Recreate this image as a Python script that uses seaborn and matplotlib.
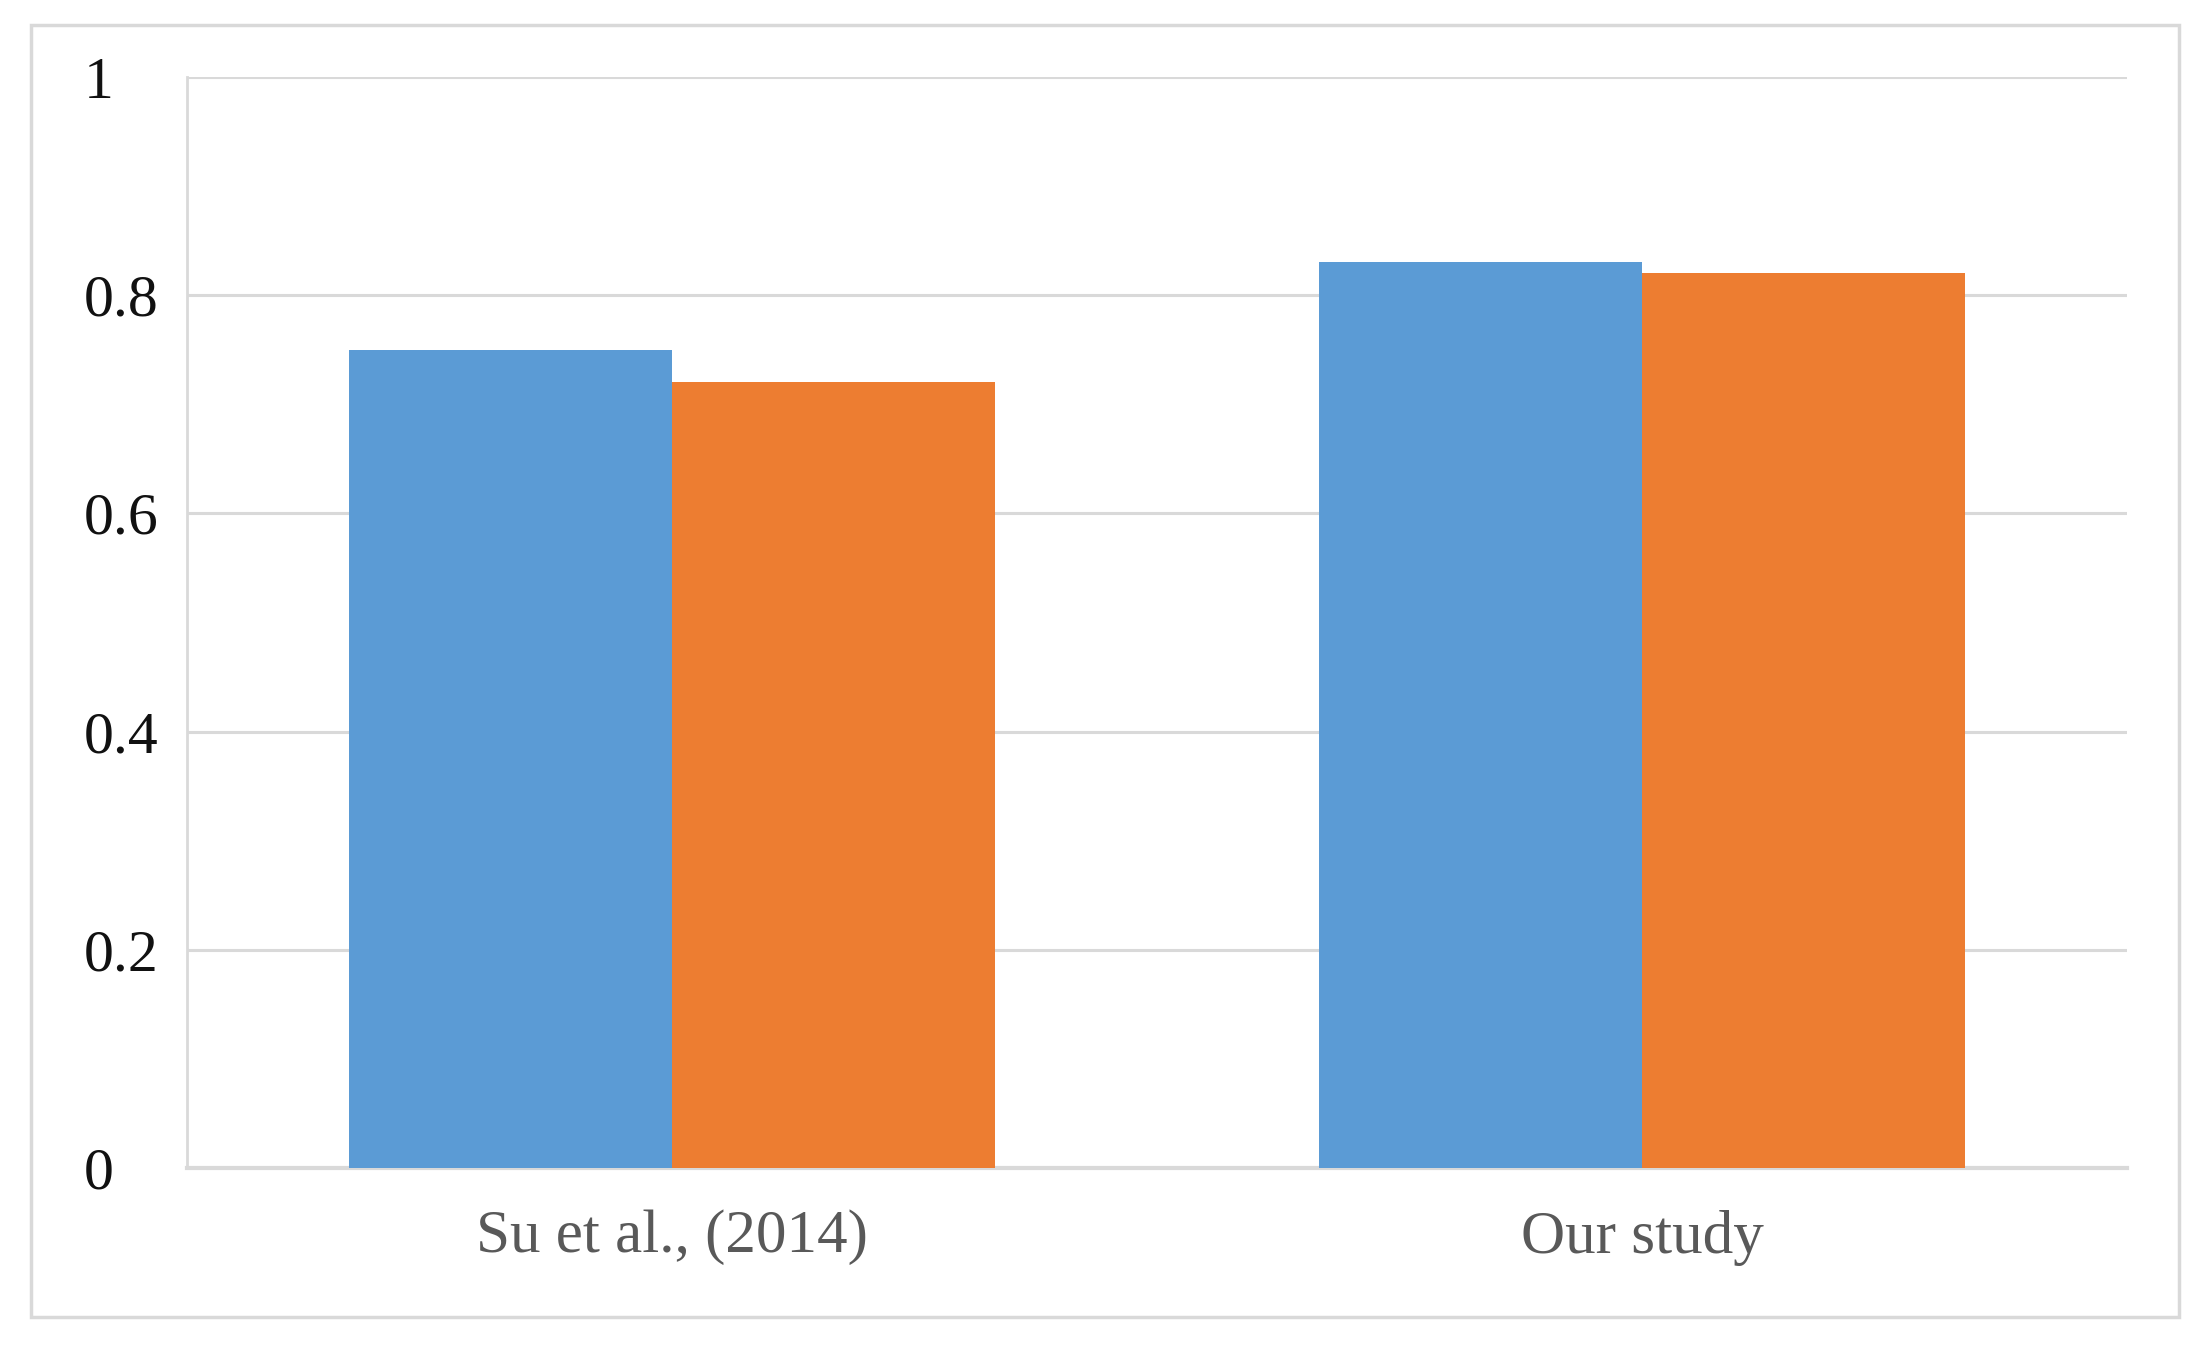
import pandas as pd
import matplotlib.pyplot as plt
import seaborn as sns
from matplotlib.patches import Rectangle

# data
studies = ['Su et al., (2014)', 'Our study']
series = ['Series 1', 'Series 2']
series1_values = [0.75, 0.83]
series2_values = [0.72, 0.82]
yticks = [0, 0.2, 0.4, 0.6, 0.8, 1]
ytick_labels = ['0', '0.2', '0.4', '0.6', '0.8', '1']

df = pd.DataFrame({
    'study': studies * 2,
    'series': [series[0]] * 2 + [series[1]] * 2,
    'value': series1_values + series2_values,
})

sns.set_style("white")
plt.rcParams['font.family'] = ['Liberation Serif', 'DejaVu Serif']

fig = plt.figure(figsize=(22.04, 13.45), dpi=100)
ax = fig.add_axes([187 / 2204, 1 - 1168 / 1345, (2127 - 187) / 2204, (1168 - 77) / 1345])

sns.barplot(data=df, x='study', y='value', hue='series', order=studies,
            palette=['#5B9BD5', '#ED7D31'], saturation=1, width=0.667,
            linewidth=0, ax=ax, legend=False, zorder=3)

ax.set_xlim(-0.5, 1.5)
ax.set_ylim(0, 1)
ax.set_yticks(yticks)
ax.set_yticklabels(ytick_labels)
ax.set_xlabel('')
ax.set_ylabel('')

ax.grid(axis='y', color='#d9d9d9', linewidth=2.2, zorder=0)
ax.set_axisbelow(True)
for side in ['top', 'right']:
    ax.spines[side].set_visible(False)
ax.spines['left'].set_color('#d9d9d9')
ax.spines['left'].set_linewidth(2)
ax.spines['bottom'].set_color('#d9d9d9')
ax.spines['bottom'].set_linewidth(3)

ax.tick_params(axis='y', length=0, pad=74, labelsize=43, labelcolor='#111111')
for lab in ax.get_yticklabels():
    lab.set_horizontalalignment('left')
ax.tick_params(axis='x', length=0, pad=30, labelsize=44, labelcolor='#595959')

# light frame around the whole chart
fig.patches.append(Rectangle((31 / 2204, 1 - 1317 / 1345), (2179 - 31) / 2204, (1317 - 25) / 1345,
                             transform=fig.transFigure, fill=False,
                             edgecolor='#d9d9d9', linewidth=2.5))

plt.savefig('out.png', dpi=100)
